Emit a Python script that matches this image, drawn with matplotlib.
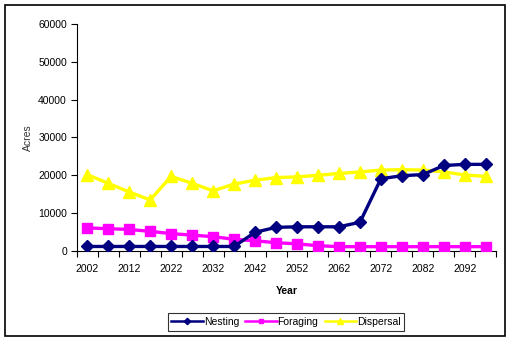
import matplotlib
matplotlib.use("Agg")
import matplotlib.pyplot as plt
from matplotlib.patches import Rectangle

plt.rcParams['font.family'] = ['Liberation Sans', 'DejaVu Sans']

years = [2002, 2007, 2012, 2017, 2022, 2027, 2032, 2037, 2042, 2047,
         2052, 2057, 2062, 2067, 2072, 2077, 2082, 2087, 2092, 2097]
nesting = [1200, 1200, 1200, 1200, 1200, 1200, 1200, 1200, 4950, 6250,
           6400, 6400, 6400, 7600, 19100, 19900, 20200, 22600, 22900, 22900]
foraging = [6100, 5900, 5700, 5200, 4600, 4200, 3800, 3100, 2700, 2200,
            1900, 1400, 1150, 1150, 1150, 1150, 1150, 1150, 1150, 1150]
dispersal = [20200, 17900, 15600, 13500, 19700, 17900, 15900, 17700, 18700, 19400,
             19600, 20000, 20500, 20900, 21400, 21500, 21400, 20900, 20100, 19700]
tick_labels = ['2002', '2012', '2022', '2032', '2042', '2052', '2062', '2072', '2082', '2092']

fig = plt.figure(figsize=(5.13, 3.44), dpi=100)
fig.patches.append(Rectangle((5/513, 8/344), 500/513, 331/344, transform=fig.transFigure,
                             fill=False, edgecolor='black', linewidth=1.2))
ax = fig.add_axes([0.1495, 0.2703, 0.818, 0.66])

x = list(range(len(years)))
ax.plot(x, nesting, color='#000080', lw=2.4, marker='D', ms=6.5, label='Nesting', zorder=4)
ax.plot(x, foraging, color='#FF00FF', lw=2.4, marker='s', ms=7, label='Foraging', zorder=3)
ax.plot(x, dispersal, color='#FFFF00', lw=2.4, marker='^', ms=8, label='Dispersal', zorder=2)

ax.set_xlim(-0.5, len(years) - 0.5)
ax.set_ylim(0, 60000)
ax.set_yticks(range(0, 60001, 10000))
ax.set_xticks(range(0, len(years), 2))
ax.set_xticklabels(tick_labels)
ax.set_xticks([i - 0.5 for i in range(len(years) + 1)], minor=True)
ax.tick_params(axis='x', which='major', length=0, pad=9, labelsize=7.5)
ax.tick_params(axis='x', which='minor', length=4, direction='out', width=0.8)
ax.tick_params(axis='y', length=4, direction='out', width=0.8, labelsize=7.5, pad=3)
for s in ['top', 'right']:
    ax.spines[s].set_visible(False)
for s in ['left', 'bottom']:
    ax.spines[s].set_linewidth(0.8)

ax.set_xlabel('Year', fontsize=7.5, fontweight='bold', labelpad=9)
ax.set_ylabel('Acres', fontsize=7.5, labelpad=4, color='#333333')

leg = fig.legend(loc='center', bbox_to_anchor=(286/513, 1 - 322/344), ncol=3, fontsize=7.5,
                 frameon=True, fancybox=False, edgecolor='black', handlelength=3.0,
                 handletextpad=0.1, columnspacing=0.6, borderpad=0.35, markerscale=0.5)
leg.get_frame().set_linewidth(0.8)
for line in leg.get_lines():
    line.set_linewidth(1.8)

fig.savefig('out.png', dpi=100)
